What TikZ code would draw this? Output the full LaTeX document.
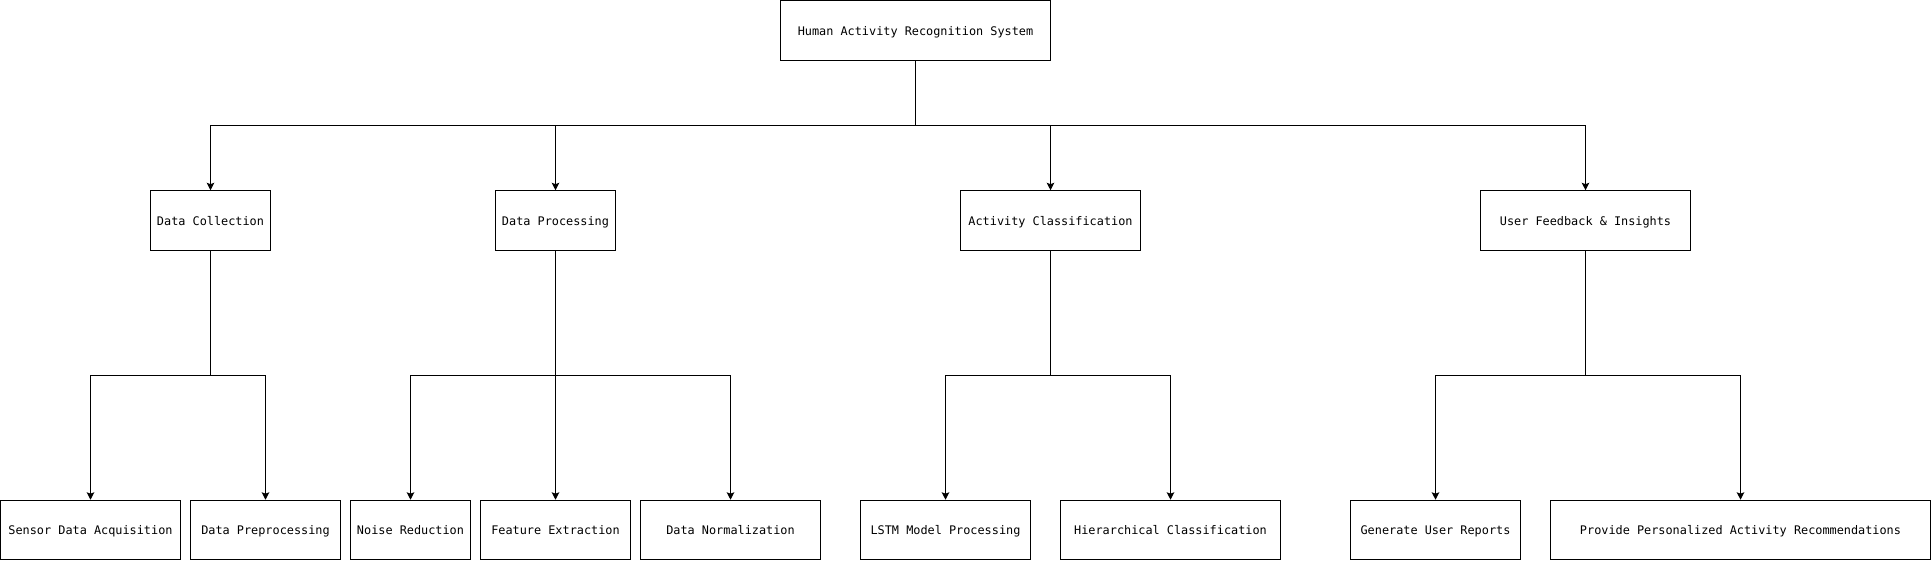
\documentclass[tikz,border=0pt]{standalone}
\usepackage{fontspec}
\setmonofont{DejaVu Sans Mono}
\usetikzlibrary{arrows.meta}

\begin{document}
\begin{tikzpicture}[
  x=1pt, y=-1pt,
  font=\ttfamily\fontsize{11.85}{14}\selectfont,
  >={Stealth[length=7.5pt, width=7.5pt, inset=1.5pt]},
  box/.style={draw, line width=1pt, minimum width=#1,
              minimum height=59.5pt, align=center, inner sep=0pt,
              text height=10pt, text depth=1pt},
  arr/.style={->, line width=1pt},
  link/.style={line width=1pt},
]
\useasboundingbox (0,0) rectangle (1931,562);

%% ---------- Root ----------------------------------------------
\node[box=270pt] (har) at (915.5,30.5) {Human Activity Recognition System};

%% ---------- Level 1: subsystems -------------------------------
\node[box=120pt] (coll)  at (210.5,220.5)  {Data Collection};
\node[box=120pt] (proc)  at (555.5,220.5)  {Data Processing};
\node[box=180pt] (class) at (1050.5,220.5) {Activity Classification};
\node[box=210pt] (user)  at (1585.5,220.5) {User Feedback \& Insights};

%% ---------- Level 2: tasks ------------------------------------
\node[box=180pt] (sensor) at (90.5,530)   {Sensor Data Acquisition};
\node[box=150pt] (prep)   at (265.5,530)  {Data Preprocessing};
\node[box=120pt] (noise)  at (410.5,530)  {Noise Reduction};
\node[box=150pt] (feat)   at (555.5,530)  {Feature Extraction};
\node[box=180pt] (norm)   at (730.5,530)  {Data Normalization};
\node[box=170pt] (lstm)   at (945.5,530)  {LSTM Model Processing};
\node[box=220pt] (hier)   at (1170.5,530) {Hierarchical Classification};
\node[box=170pt] (report) at (1435.5,530) {Generate User Reports};
\node[box=380pt] (recom)  at (1740.5,530) {Provide Personalized Activity Recommendations};

%% ---- Bus junctions -------------------------------------------
\coordinate (jroot)  at (915.5,125);
\coordinate (jcoll)  at (210.5,375);
\coordinate (jproc)  at (555.5,375);
\coordinate (jclass) at (1050.5,375);
\coordinate (juser)  at (1585.5,375);

%% ---- Arrows: root to subsystems ------------------------------
\draw[link] (har) -- (jroot);
\draw[arr] (jroot) -| (coll);
\draw[arr] (jroot) -| (proc);
\draw[arr] (jroot) -| (class);
\draw[arr] (jroot) -| (user);

%% ---- Arrows: subsystems to tasks -----------------------------
\draw[link] (coll) -- (jcoll);
\draw[arr] (jcoll) -| (sensor);
\draw[arr] (jcoll) -| (prep);

\draw[link] (proc) -- (jproc);
\draw[arr] (jproc) -| (noise);
\draw[arr] (jproc) -- (feat);
\draw[arr] (jproc) -| (norm);

\draw[link] (class) -- (jclass);
\draw[arr] (jclass) -| (lstm);
\draw[arr] (jclass) -| (hier);

\draw[link] (user) -- (juser);
\draw[arr] (juser) -| (report);
\draw[arr] (juser) -| (recom);
\end{tikzpicture}
\end{document}
